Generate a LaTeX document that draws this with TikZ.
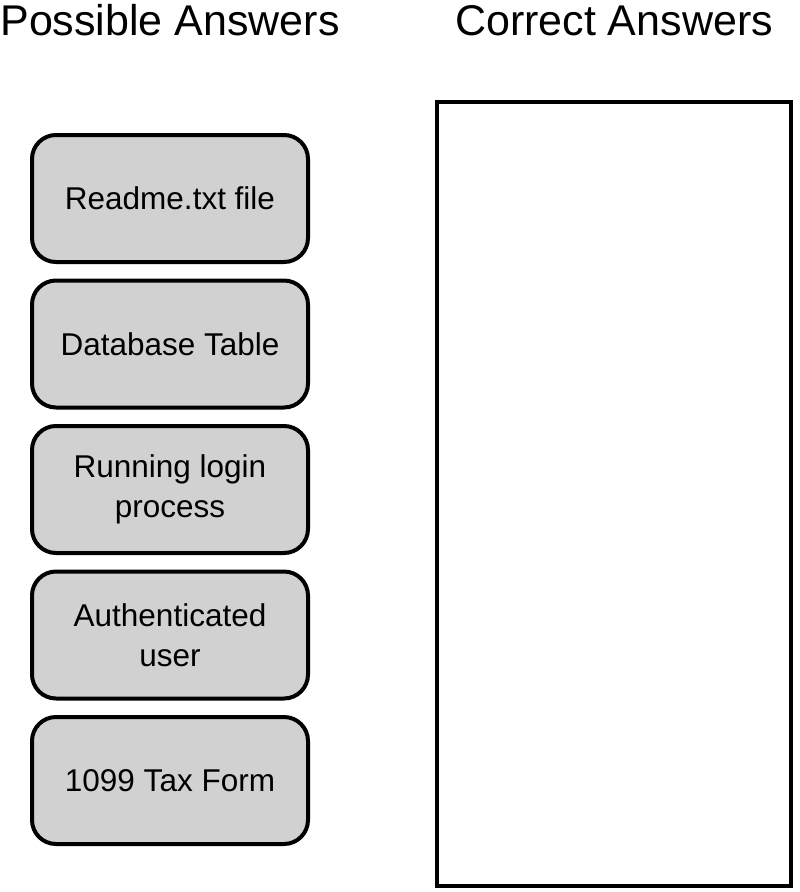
\documentclass[tikz,border=0pt]{standalone}
\usepackage{fontspec}
\setmainfont{Liberation Sans}
\begin{document}
\begin{tikzpicture}[x=1pt,y=-1pt,
  answer/.style={draw=black, line width=4pt, fill=black!18, rounded corners=24pt,
    minimum width=276pt, minimum height=127pt, align=center, inner sep=0pt,
    font=\fontsize{31.5}{40}\selectfont},
  heading/.style={font=\fontsize{43}{50}\selectfont, anchor=base, inner sep=0pt}]
\useasboundingbox (0,0) rectangle (800,892);
\node[heading] (h1) at (170,35) {Possible Answers};
\node[heading] (h2) at (614,35) {Correct Answers};
\node[answer] (a1) at (170,198.5) {Readme.txt file};
\node[answer] (a2) at (170,344) {Database Table};
\node[answer] (a3) at (170,489.5) {Running login\\process};
\node[answer] (a4) at (170,635) {Authenticated\\user};
\node[answer] (a5) at (170,780.5) {1099 Tax Form};
\node[draw=black, line width=4pt, fill=white, minimum width=354pt, minimum height=784pt, inner sep=0pt] (box) at (614,494) {};
\end{tikzpicture}
\end{document}
